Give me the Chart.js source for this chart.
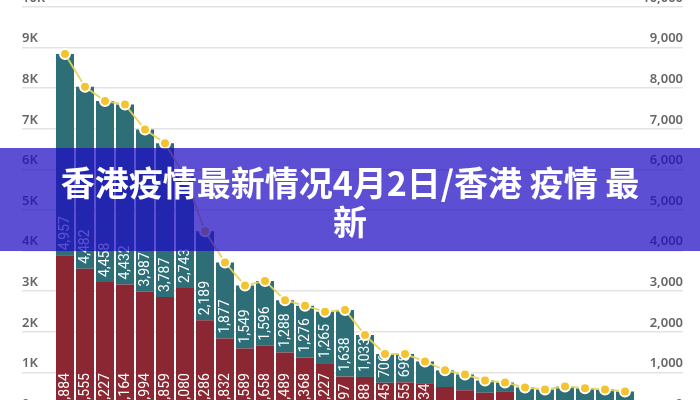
<!DOCTYPE html>
<html lang="zh">
<head>
<meta charset="utf-8">
<title>香港疫情最新情况4月2日</title>
<script src="https://cdn.jsdelivr.net/npm/chart.js@4.4.0/dist/chart.umd.min.js"></script>
<style>
  html, body { margin: 0; padding: 0; overflow: hidden; background: #fff; }
  #wrap { position: relative; width: 700px; height: 420px; }
  #banner {
    position: absolute; left: 0; top: 148px; width: 700px; height: 103px;
    box-sizing: border-box; padding: 14px 45px 0;
    background: rgba(31, 11, 196, 0.72);
    color: #fff; text-align: center;
    font-family: "Noto Sans CJK SC", sans-serif; font-weight: 700;
    font-size: 34px; line-height: 39px;
  }
</style>
</head>
<body>
<div id="wrap">
  <canvas id="caseChart"></canvas>
  <div id="banner">香港疫情最新情况4月2日/香港 疫情 最新</div>
</div>
<script>
// 每日数据 (x 轴在图片下方被裁掉)
const dayLabels = ['第1日', '第2日', '第3日', '第4日', '第5日', '第6日', '第7日', '第8日', '第9日', '第10日',
  '第11日', '第12日', '第13日', '第14日', '第15日', '第16日', '第17日', '第18日', '第19日', '第20日',
  '第21日', '第22日', '第23日', '第24日', '第25日', '第26日', '第27日', '第28日', '第29日'];
// 核酸检测 (深红)
const pcrCases = [3884, 3555, 3227, 3164, 2994, 2859, 3080, 2286, 1832, 1589,
  1658, 1489, 1368, 1227, 897, 888, 745, 755, 734, 640,
  560, 500, 520, 290, 280, 270, 260, 250, 240];
// 快速抗原测试 (青色)
const ratCases = [4957, 4482, 4458, 4432, 3987, 3787, 2743, 2189, 1877, 1549,
  1596, 1288, 1276, 1265, 1638, 1033, 706, 698, 536, 410,
  390, 300, 230, 340, 300, 380, 350, 330, 290];
// 总数 (黄线)
const totalCases = [8841, 8037, 7685, 7596, 6981, 6646, 5823, 4475, 3709, 3138,
  3254, 2777, 2644, 2492, 2535, 1921, 1451, 1453, 1270, 1050,
  950, 800, 750, 630, 580, 650, 610, 580, 530];
const leftTicks = ['0', '1K', '2K', '3K', '4K', '5K', '6K', '7K', '8K', '9K', '10K'];
const rightTicks = ['0', '1,000', '2,000', '3,000', '4,000', '5,000', '6,000', '7,000', '8,000', '9,000', '10,000'];

const gridColor = '#e3e3e3';
const tickFont = { family: 'Noto Sans', size: 13, weight: '600' };

// 柱内竖排数字
const barValueLabels = {
  id: 'barValueLabels',
  afterDatasetDraw(chart, args) {
    const ds = chart.data.datasets[args.index];
    if (ds.type === 'line') return;
    const ctx = chart.ctx;
    ctx.save();
    ctx.font = '14px Roboto';
    ctx.fillStyle = '#ffffff';
    ctx.textAlign = 'left';
    ctx.textBaseline = 'middle';
    args.meta.data.forEach((bar, i) => {
      const { x, y, base } = bar.getProps(['x', 'y', 'base'], true);
      const text = ds.data[i].toLocaleString('en-US');
      if (base - y < ctx.measureText(text).width + 4) return;
      ctx.save();
      ctx.translate(x, base - 5);
      ctx.rotate(-Math.PI / 2);
      ctx.fillText(text, 0, 0);
      ctx.restore();
    });
    ctx.restore();
  }
};

const config = {
  type: 'bar',
  data: {
    labels: dayLabels,
    datasets: [{
      type: 'line',
      label: '总数',
      data: totalCases,
      yAxisID: 'y1',
      borderColor: 'rgba(230, 212, 90, 0.9)',
      borderWidth: 2,
      tension: 0,
      pointRadius: 5,
      pointBackgroundColor: '#f4c430',
      pointBorderColor: '#ffffff',
      pointBorderWidth: 2
    }, {
      label: '核酸检测',
      data: pcrCases,
      yAxisID: 'y',
      backgroundColor: '#8a2732',
      categoryPercentage: 1,
      barPercentage: 0.9
    }, {
      label: '快速抗原测试',
      data: ratCases,
      yAxisID: 'y',
      backgroundColor: '#2d6e77',
      categoryPercentage: 1,
      barPercentage: 0.9
    }]
  },
  options: {
    responsive: true,
    maintainAspectRatio: false,
    animation: false,
    layout: { padding: { left: 22, right: 17, top: 7, bottom: 7 } },
    plugins: {
      legend: { display: false },
      tooltip: { enabled: false }
    },
    scales: {
      x: { stacked: true, display: false },
      y: {
        position: 'left',
        stacked: true,
        min: 0,
        max: 10000,
        border: { display: false },
        grid: { color: gridColor, lineWidth: 1.5, tickLength: 33 },
        ticks: {
          stepSize: 1000,
          crossAlign: 'far',
          labelOffset: -9,
          padding: 0,
          color: '#666666',
          font: tickFont,
          callback: (value, index) => leftTicks[index]
        },
        afterFit(scale) {
          scale.width = 33;
          scale.paddingTop = 0;
          scale.paddingBottom = 0;
        }
      },
      y1: {
        position: 'right',
        stacked: false,
        min: 0,
        max: 10000,
        border: { display: false },
        grid: { drawOnChartArea: false, color: gridColor, lineWidth: 1.5, tickLength: 48 },
        ticks: {
          stepSize: 1000,
          crossAlign: 'far',
          labelOffset: -9,
          padding: 0,
          color: '#666666',
          font: tickFont,
          callback: (value, index) => rightTicks[index]
        },
        afterFit(scale) {
          scale.width = 48;
          scale.paddingTop = 0;
          scale.paddingBottom = 0;
        }
      }
    }
  },
  plugins: [barValueLabels]
};

new Chart(document.getElementById('caseChart'), config);
</script>
</body>
</html>
